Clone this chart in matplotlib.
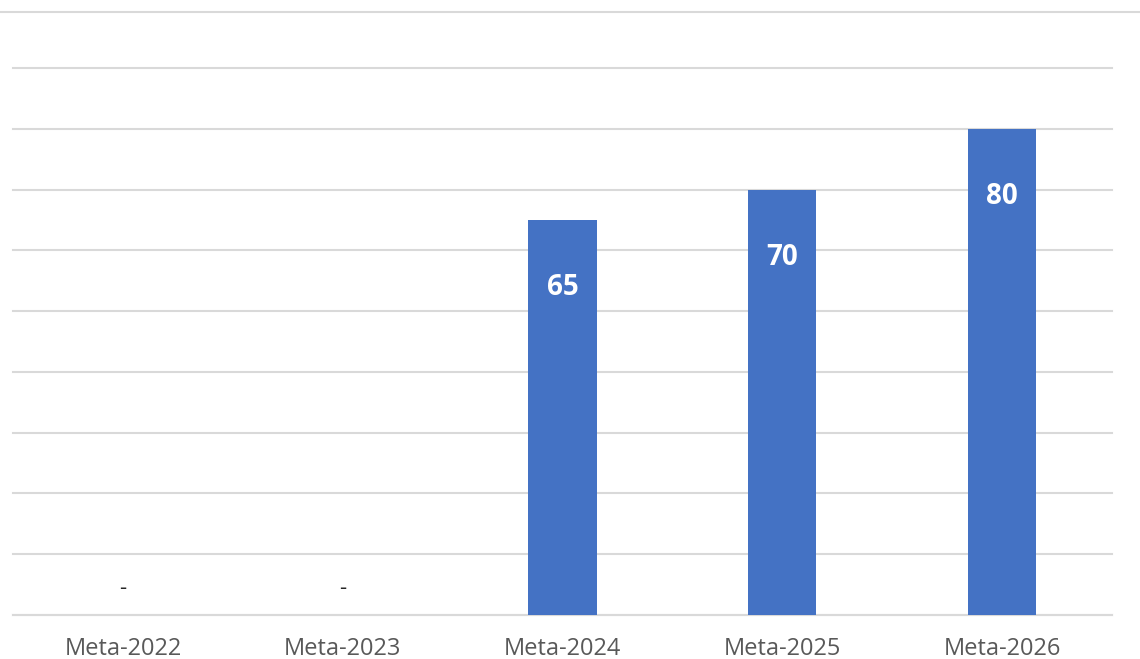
"""
Bar chart of yearly targets (Meta-2022 .. Meta-2026)
"""
import matplotlib.pyplot as plt
import matplotlib.lines as mlines

# chart data
categories = ["Meta-2022", "Meta-2023", "Meta-2024", "Meta-2025", "Meta-2026"]
values = [0, 0, 65, 70, 80]

plt.rcParams["font.family"] = ["Open Sans", "DejaVu Sans"]

fig = plt.figure(figsize=(11.4, 6.59), dpi=100)
ax = fig.add_axes([13 / 1140, 44 / 659, 1099 / 1140, 547 / 659])

x = range(len(categories))
bars = ax.bar(x, values, width=0.31, color="#4472C4", zorder=3)

ax.set_xlim(-0.5, len(categories) - 0.5)
ax.set_ylim(0, 90)
ax.set_yticks(range(0, 91, 10))
ax.yaxis.grid(True, color="#D9D9D9", linewidth=1.5, zorder=0)
for gl in ax.get_ygridlines():
    gl.set_clip_on(False)
ax.tick_params(axis="y", left=False, labelleft=False)
ax.tick_params(axis="x", bottom=False, colors="#595959", labelsize=17, pad=12)
ax.set_xticks(list(x))
ax.set_xticklabels(categories)
for side in ["top", "right", "left"]:
    ax.spines[side].set_visible(False)
ax.spines["bottom"].set_color("#D9D9D9")
ax.spines["bottom"].set_linewidth(1.5)

# value labels: inside the bar top, or a dash for zero
for rect, val in zip(bars, values):
    cx = rect.get_x() + rect.get_width() / 2
    if val == 0:
        ax.annotate("-", (cx, 0), xytext=(0, 19), textcoords="offset points",
                    ha="center", va="center", color="#262626", fontsize=16)
    else:
        ax.annotate(str(val), (cx, val), xytext=(0, -49), textcoords="offset points",
                    ha="center", va="center", color="white", fontsize=20,
                    fontweight="bold")

# top border line of the chart area
fig.add_artist(mlines.Line2D([0, 1], [1 - 11.5 / 659, 1 - 11.5 / 659],
                             color="#D9D9D9", linewidth=1.5))

fig.savefig("out.png", dpi=100)
